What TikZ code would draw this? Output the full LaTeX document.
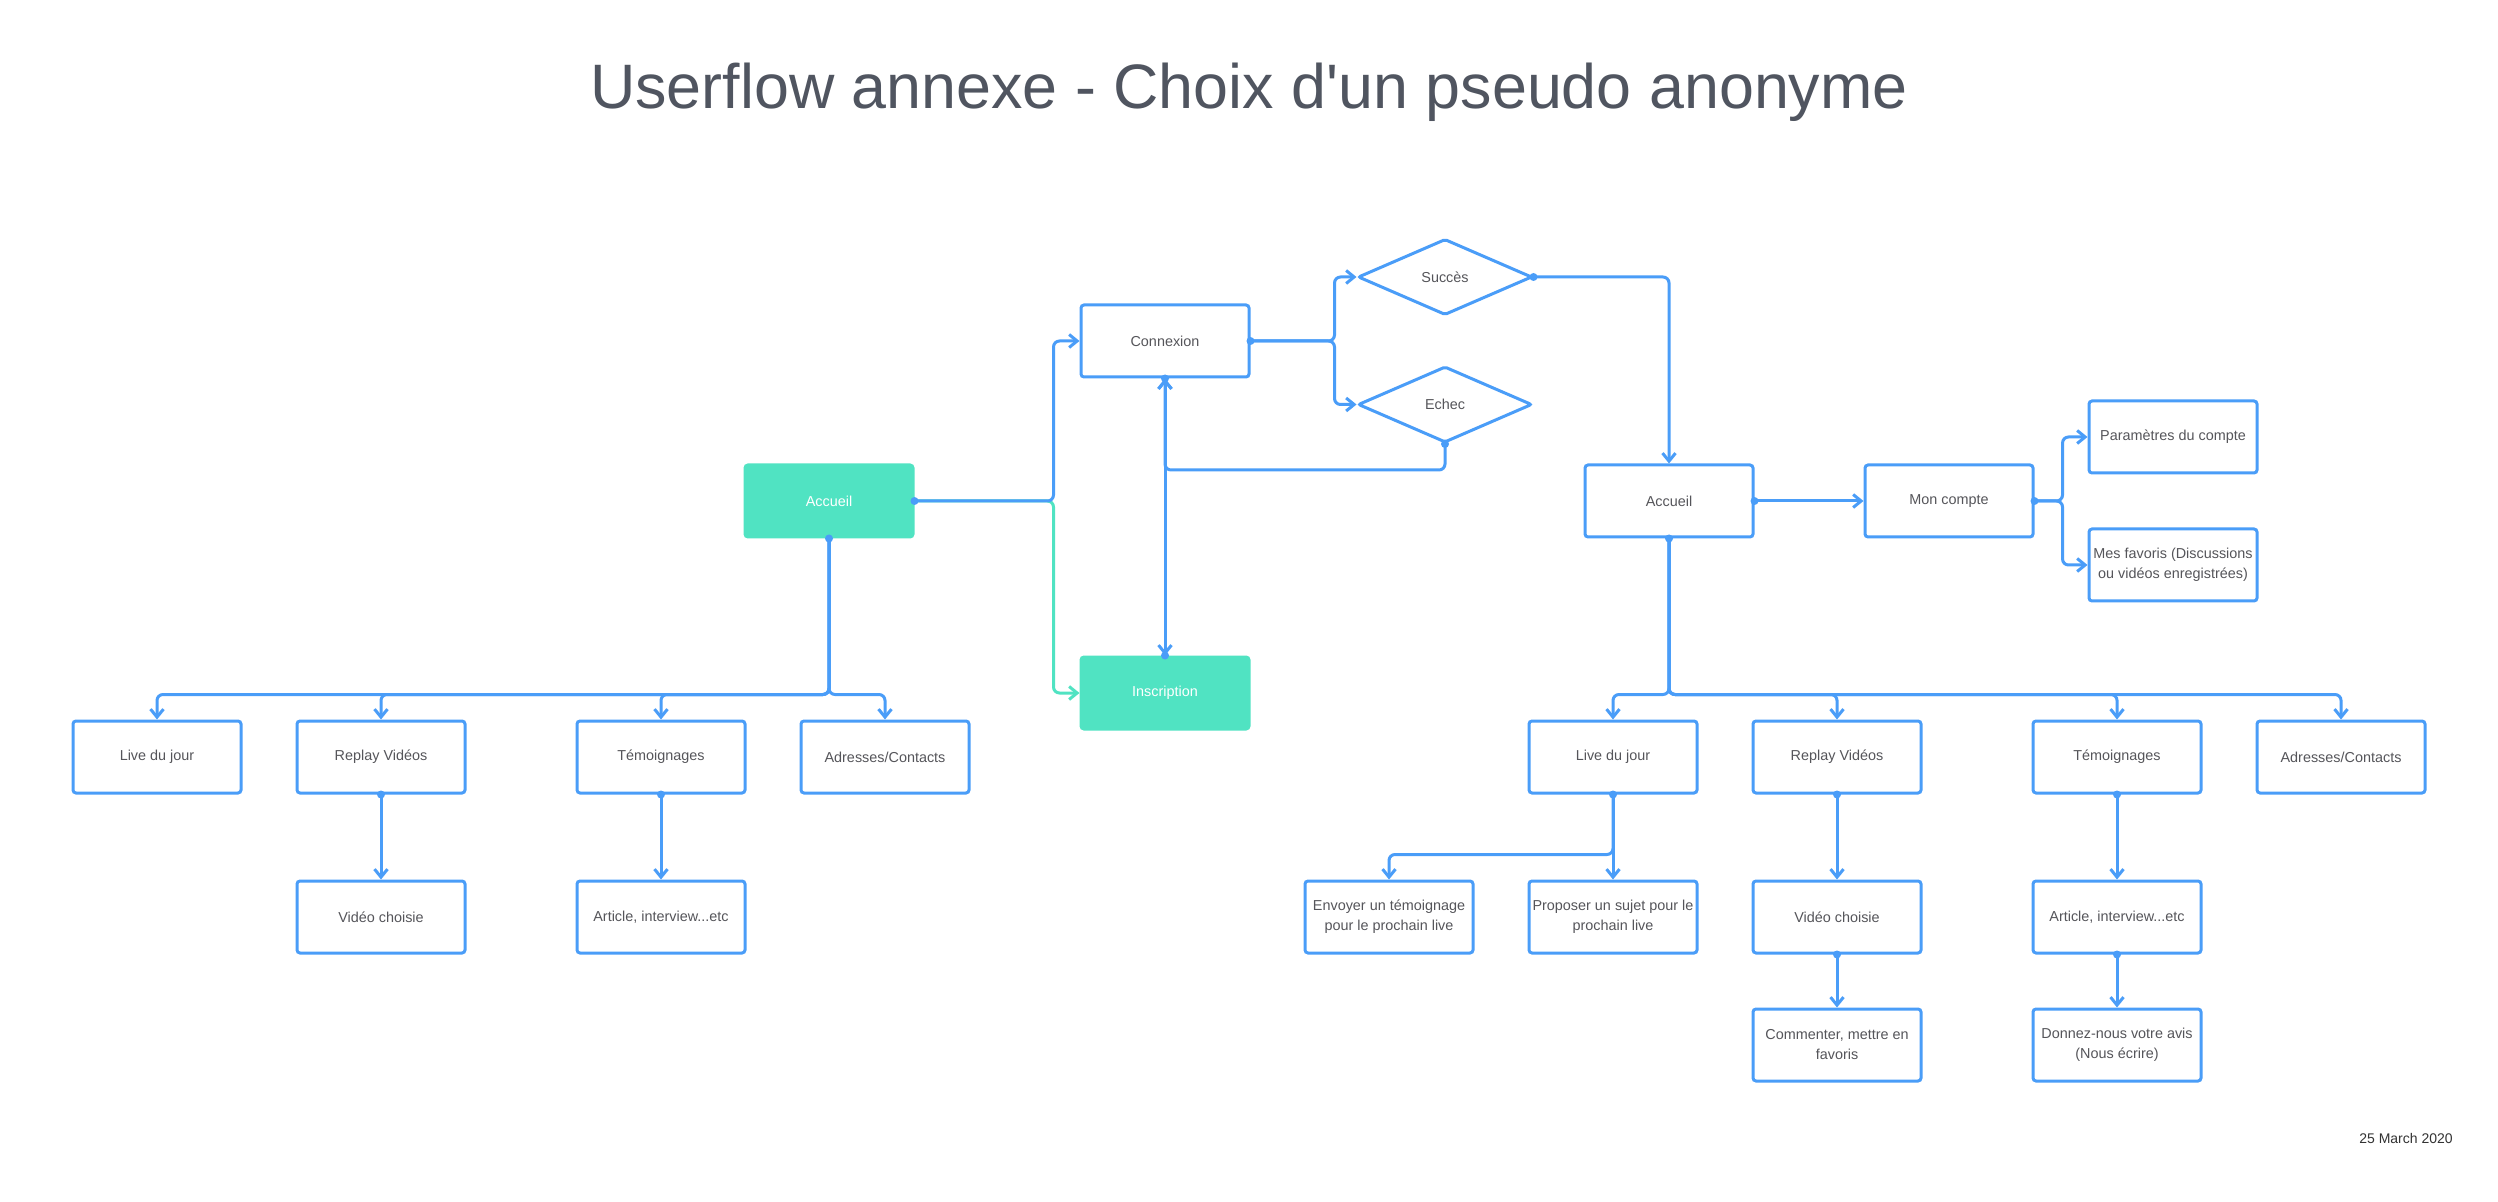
\documentclass[tikz,border=0pt]{standalone}
\usepackage{fontspec}
\setmainfont{Liberation Sans}[Ligatures=TeXOff]
\usetikzlibrary{arrows.meta,shapes.geometric}
\definecolor{lblue}{RGB}{74,157,248}
\definecolor{mint}{RGB}{80,227,194}
\definecolor{txt}{RGB}{85,85,90}
\definecolor{ttl}{RGB}{80,85,96}
\tikzset{
  box/.style={draw=lblue, line width=1.5pt, rounded corners=1.5pt, fill=white,
    minimum width=84pt, minimum height=36pt, inner sep=0pt, align=center,
    text=txt, font=\fontsize{7.2}{10}\selectfont},
  gbox/.style={box, draw=mint, fill=mint, text=white},
  dia/.style={diamond, draw=lblue, line width=1.5pt, rounded corners=1pt, inner sep=0pt,
    aspect=2.29, minimum width=87pt, minimum height=38pt, text=txt,
    font=\fontsize{7.2}{10}\selectfont},
  conn/.style={draw=lblue, line width=1.5pt, rounded corners=3pt,
    -{Straight Barb[length=4pt,width=6.5pt,line width=1.5pt]}},
  gconn/.style={conn, draw=mint},
  dotm/.style={fill=lblue},
}
\begin{document}
\begin{tikzpicture}[x=0.5pt,y=-0.5pt]
\useasboundingbox (0,0) rectangle (2498,1202);
\fill[white] (0,0) rectangle (2498,1202);
% title & date
\node[anchor=base, text=ttl, font=\fontsize{31.4}{38}\selectfont, inner sep=0pt] (title) at (1249,109) {Userflow annexe - Choix d'un pseudo anonyme};
\node[anchor=base, text=black!80, font=\fontsize{7}{9}\selectfont, inner sep=0pt] (date) at (2406,1143) {25 March 2020};
% nodes
\node[gbox] (accL) at (829,501) {Accueil};
\node[box] (cnx) at (1165,341) {Connexion};
\node[gbox] (ins) at (1165,693) {Inscription};
\node[dia] (suc) at (1445,277) {Succès};
\node[dia] (ech) at (1445,404.5) {Echec};
\node[box] (accR) at (1669,501) {Accueil};
\node[box] (mc) at (1949,501) {Mon compte};
\node[box] (par) at (2173,437) {Paramètres du compte};
\node[box] (fav) at (2173,565) {Mes favoris (Discussions\\ou vidéos enregistrées)};
\node[box] (l1) at (157,757) {Live du jour};
\node[box] (l2) at (381,757) {Replay Vidéos};
\node[box] (l3) at (661,757) {Témoignages};
\node[box] (l4) at (885,757) {Adresses/Contacts};
\node[box] (l5) at (381,917) {Vidéo choisie};
\node[box] (l6) at (661,917) {Article, interview...etc};
\node[box] (r1) at (1613,757) {Live du jour};
\node[box] (r2) at (1837,757) {Replay Vidéos};
\node[box] (r3) at (2117,757) {Témoignages};
\node[box] (r4) at (2341,757) {Adresses/Contacts};
\node[box] (r5) at (1389,917) {Envoyer un témoignage\\pour le prochain live};
\node[box] (r6) at (1613,917) {Proposer un sujet pour le\\prochain live};
\node[box] (r7) at (1837,917) {Vidéo choisie};
\node[box] (r8) at (2117,917) {Article, interview...etc};
\node[box] (r9) at (1837,1045) {Commenter, mettre en\\favoris};
\node[box] (r10) at (2117,1045) {Donnez-nous votre avis\\(Nous écrire)};
% connectors
\draw[gconn] (accL.east) -- ++(139,0) |- (ins.west);
\draw[conn] (accL.east) -- ++(139,0) |- (cnx.west);
\draw[conn] (cnx.east) -- ++(84,0) |- (suc.west);
\draw[conn] (cnx.east) -- ++(84,0) |- (ech.west);
\draw[conn] (ech.south) -- ++(0,26) -| (cnx.south);
\draw[conn] (cnx.south) -- (ins.north);
\draw[conn] (ins.north) -- (cnx.south);
\draw[conn] (suc.east) -| (accR.north);
\draw[conn] (accR.east) -- (mc.west);
\draw[conn] (mc.east) -- ++(28,0) |- (par.west);
\draw[conn] (mc.east) -- ++(28,0) |- (fav.west);
\foreach \t in {l1,l2,l3,l4} \draw[conn] (accL.south) -- ++(0,156) -| (\t.north);
\foreach \t in {r1,r2,r3,r4} \draw[conn] (accR.south) -- ++(0,156) -| (\t.north);
\draw[conn] (l2.south) -- (l5.north);
\draw[conn] (l3.south) -- (l6.north);
\draw[conn] (r1.south) -- ++(0,60) -| (r5.north);
\draw[conn] (r1.south) -- (r6.north);
\draw[conn] (r2.south) -- (r7.north);
\draw[conn] (r3.south) -- (r8.north);
\draw[conn] (r7.south) -- (r9.north);
\draw[conn] (r8.south) -- (r10.north);
% dots
\foreach \p in {accL.east,accL.south,cnx.east,cnx.south,ins.north,ech.south,suc.east,accR.east,accR.south,mc.east,l2.south,l3.south,r1.south,r2.south,r3.south,r7.south,r8.south}
  \fill[dotm] (\p) circle (4);
\end{tikzpicture}
\end{document}
